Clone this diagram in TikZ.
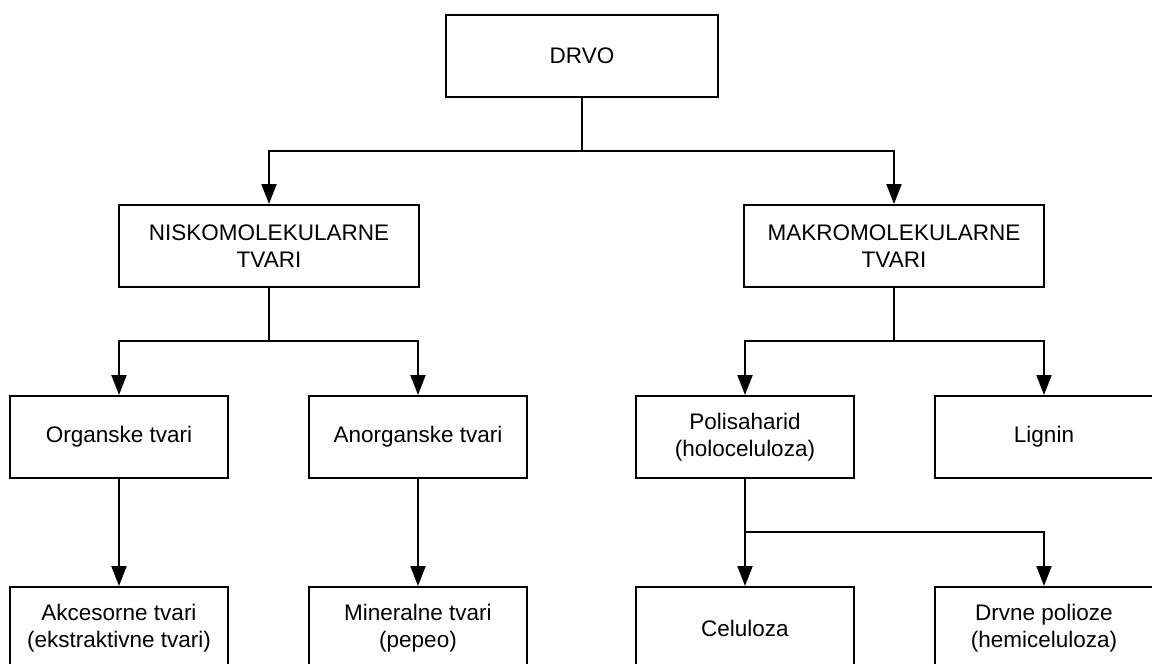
\documentclass[tikz,border=0pt]{standalone}
\usepackage{fontspec}
\setmainfont{Liberation Sans}
\usetikzlibrary{arrows.meta}
\tikzset{
  kutija/.style={draw,line width=2pt,inner sep=0pt,align=center,
                 minimum width=218pt,minimum height=82pt},
  veza/.style={line width=2pt},
  strelica/.style={line width=2pt,-{Triangle[length=20pt,width=15pt]}}
}

\begin{document}
\begin{tikzpicture}[x=1pt,y=-1pt,font=\fontsize{22.5}{27}\selectfont]
\useasboundingbox (0,0) rectangle (1152,664);
\clip (0,0) rectangle (1152,664);

\node[kutija,minimum width=272pt] (drvo) at (582,56) {DRVO};

\node[kutija,minimum width=300pt] (nisko) at (269,246) {NISKOMOLEKULARNE\\TVARI};
\node[kutija,minimum width=300pt] (makro) at (894,246) {MAKROMOLEKULARNE\\TVARI};

\node[kutija] (organske)   at (119,437)  {Organske tvari};
\node[kutija] (anorganske) at (418,437)  {Anorganske tvari};
\node[kutija] (polisaharid) at (745,437) {Polisaharid\\(holoceluloza)};
\node[kutija] (lignin)     at (1044,437) {Lignin};

\node[kutija] (akcesorne) at (119,628)  {Akcesorne tvari\\(ekstraktivne tvari)};
\node[kutija] (mineralne) at (418,628)  {Mineralne tvari\\(pepeo)};
\node[kutija] (celuloza)  at (745,628)  {Celuloza};
\node[kutija] (polioze)   at (1044,628) {Drvne polioze\\(hemiceluloza)};

% razdjelne tocke
\coordinate (j1) at (582,151);
\coordinate (j2) at (269,341);
\coordinate (j3) at (894,341);
\coordinate (j4) at (745,532);

\draw[veza] (drvo.south) -- (j1);
\draw[strelica] (j1) -| (nisko.north);
\draw[strelica] (j1) -| (makro.north);

\draw[veza] (nisko.south) -- (j2);
\draw[strelica] (j2) -| (organske.north);
\draw[strelica] (j2) -| (anorganske.north);

\draw[veza] (makro.south) -- (j3);
\draw[strelica] (j3) -| (polisaharid.north);
\draw[strelica] (j3) -| (lignin.north);

\draw[strelica] (organske.south) -- (akcesorne.north);
\draw[strelica] (anorganske.south) -- (mineralne.north);

\draw[veza] (polisaharid.south) -- (j4);
\draw[strelica] (j4) -- (celuloza.north);
\draw[strelica] (j4) -| (polioze.north);
\end{tikzpicture}
\end{document}
